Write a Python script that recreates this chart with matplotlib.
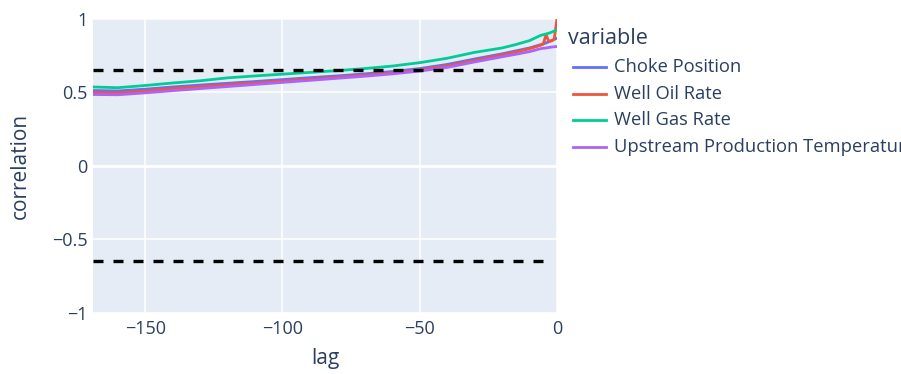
import matplotlib.pyplot as plt
from matplotlib.lines import Line2D

# ------------------------------
# Data
# ------------------------------
lags = [-169, -160, -150, -140, -130, -120, -110, -100, -90, -80, -70, -60,
        -50, -40, -30, -20, -15, -10, -6, -5, -4, -3, -2, -1, 0]

choke_position = [0.511, 0.508, 0.520, 0.535, 0.548, 0.560, 0.572, 0.585,
                  0.598, 0.610, 0.624, 0.640, 0.660, 0.688, 0.725, 0.760,
                  0.780, 0.800, 0.822, 0.828, 0.834, 0.842, 0.850, 0.858, 0.866]
well_oil_rate = [0.497, 0.495, 0.508, 0.524, 0.537, 0.550, 0.562, 0.575,
                 0.588, 0.601, 0.615, 0.631, 0.651, 0.678, 0.715, 0.752,
                 0.772, 0.795, 0.818, 0.826, 0.890, 0.845, 0.848, 0.860, 1.0]
well_gas_rate = [0.535, 0.530, 0.545, 0.562, 0.577, 0.597, 0.610, 0.622,
                 0.634, 0.646, 0.660, 0.677, 0.700, 0.730, 0.770, 0.800,
                 0.823, 0.850, 0.885, 0.890, 0.895, 0.900, 0.907, 0.915, 0.924]
upstream_temp = [0.484, 0.482, 0.495, 0.510, 0.524, 0.538, 0.552, 0.566,
                 0.580, 0.594, 0.608, 0.624, 0.643, 0.668, 0.705, 0.740,
                 0.757, 0.775, 0.795, 0.798, 0.800, 0.803, 0.806, 0.808, 0.810]

series_names = ["Choke Position", "Well Oil Rate", "Well Gas Rate",
                "Upstream Production Temperature"]
series_values = [choke_position, well_oil_rate, well_gas_rate, upstream_temp]
colors = ["#636efa", "#EF553B", "#00cc96", "#ab63fa"]

conf_level = 0.65

# ------------------------------
# Plot
# ------------------------------
plt.rcParams["font.family"] = ["Open Sans", "DejaVu Sans"]
text_color = "#2a3f5f"
W, H = 901, 374

fig = plt.figure(figsize=(W / 100, H / 100), dpi=100)
ax = fig.add_axes([93 / W, (H - 313) / H, (557 - 93) / W, (313 - 18.5) / H])
ax.set_facecolor("#E5ECF6")

for name, vals, c in zip(series_names, series_values, colors):
    ax.plot(lags, vals, color=c, lw=2.0, label=name, zorder=3)

for yv in (conf_level, -conf_level):
    ax.axhline(yv, xmin=0, xmax=0.985, color="black", lw=2.4,
               linestyle=(0, (3.0, 3.0)), zorder=4)

ax.set_xlim(-169, 0)
ax.set_ylim(-1, 1)
ax.set_xticks([-150, -100, -50, 0])
ax.set_xticklabels(["\u2212150", "\u2212100", "\u221250", "0"])
ax.set_yticks([-1, -0.5, 0, 0.5, 1])
ax.set_yticklabels(["\u22121", "\u22120.5", "0", "0.5", "1"])
ax.grid(True, color="white", lw=1.1)
ax.axhline(0, color="white", lw=2, zorder=1)
ax.set_axisbelow(True)
for s in ax.spines.values():
    s.set_visible(False)
ax.tick_params(length=0, labelsize=13, labelcolor=text_color)
ax.tick_params(axis="x", pad=5)
ax.tick_params(axis="y", pad=4)

ax.set_xlabel("lag", fontsize=15, color=text_color, labelpad=7)
ax.set_ylabel("correlation", fontsize=15, color=text_color, labelpad=15)

# legend drawn by hand on the right
fig.text(568 / W, 1 - 39 / H, "variable", fontsize=15.5, color=text_color,
         va="center", ha="left")
for i, (name, c) in enumerate(zip(series_names, colors)):
    ypix = 67 + i * 26.7
    fig.add_artist(Line2D([573 / W, 606 / W], [1 - ypix / H] * 2,
                          color=c, lw=2.0, transform=fig.transFigure))
    fig.text(614 / W, 1 - ypix / H, name, fontsize=13.2, color=text_color,
             va="center", ha="left")

fig.savefig("out.png", dpi=100)
